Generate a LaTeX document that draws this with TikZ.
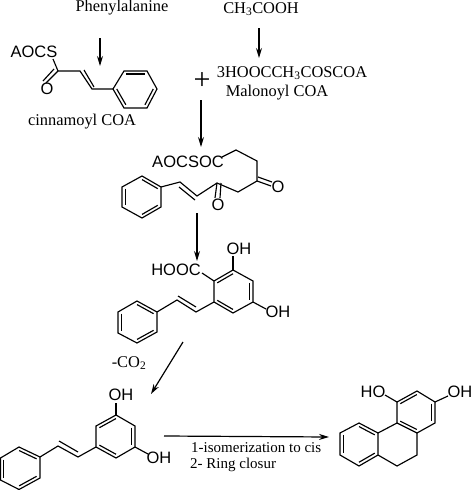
\documentclass[tikz,border=0pt]{standalone}
\usepackage{fontspec}
\setmainfont{Liberation Serif}
\setsansfont{Liberation Sans}
\usetikzlibrary{arrows.meta, calc}
\newcommand{\innerbond}[3]{\draw[bond] ($#1!.17!#3$) -- ($#2!.17!#3$);}
\begin{document}
\begin{tikzpicture}[
            x=1pt, y=-1pt,
            bond/.style={line width=1.15pt, line join=miter},
            arr/.style={-{Stealth[length=10pt,width=6pt]}, line width=1.2pt},
            lbl/.style={inner sep=0pt, font=\fontsize{16.4}{17}\selectfont},
            atom/.style={inner sep=0pt, font=\sffamily\fontsize{16.5}{17}\selectfont},
        ]
            \useasboundingbox (0,0) rectangle (473,490);

            % labels
            \node[lbl] (phe)  at (122,8)  {Phenylalanine};
            \node[lbl] (acet) at (261,9)  {CH\textsubscript{3}COOH};
            \node[lbl] (malo) at (292,73) {3HOOCCH\textsubscript{3}COSCOA};
            \node[lbl] (mcoa) at (277,93) {Malonoyl COA};
            \node[lbl] (cinn) at (82,122) {cinnamoyl COA};
            \node[lbl, font=\fontsize{30}{30}\selectfont] (plus) at (202,81) {+};
            \node[lbl] (co2)  at (129,363) {-CO\textsubscript{2}};
            \node[lbl, font=\fontsize{15}{16}\selectfont, anchor=west] (iso)  at (191,447.5) {1-isomerization to cis};
            \node[lbl, font=\fontsize{15}{16}\selectfont, anchor=west] (ring) at (190,464.5) {2- Ring closur};

            % cinnamoyl
            \node[atom] (aocs) at (34,52) {AOCS};
            \node[atom] (oa)   at (47,89) {O};
            \draw[bond] (53,59) -- (58,71) -- (80,71) -- (92,89) -- (113,89);
            \draw[bond] (58,71) -- (46,83);
            \draw[bond] (54,69) -- (43,81);
            \draw[bond] (84,70) -- (94,87);
            \draw[bond] (113,89) -- (124,71) -- (147,71) -- (157,89) -- (147,108) -- (124,108) -- cycle;
            \innerbond{(124,71)}{(147,71)}{(135,89)}
            \innerbond{(157,89)}{(147,108)}{(135,89)}
            \innerbond{(124,108)}{(113,89)}{(135,89)}

            % triketide
            \node[atom] (aocsoc) at (188,162) {AOCSOC};
            \node[atom] (ob) at (278,187) {O};
            \node[atom] (oc) at (218,205) {O};
            \draw[bond] (222,157) -- (236,150) -- (257,161) -- (257,181) -- (238,192) -- (217,183) -- (197,196) -- (180,182) -- (161,187);
            \draw[bond] (257,181) -- (271,186);
            \draw[bond] (258,177) -- (272,182);
            \draw[bond] (217,183) -- (215,198);
            \draw[bond] (221,183) -- (220,198);
            \draw[bond] (179,187) -- (195,200);
            \draw[bond] (161,187) -- (142,176) -- (122,187) -- (122,207) -- (142,218) -- (161,207) -- cycle;
            \innerbond{(161,187)}{(142,176)}{(142,197)}
            \innerbond{(122,187)}{(122,207)}{(142,197)}
            \innerbond{(142,218)}{(161,207)}{(142,197)}

            % acid
            \node[atom] (hooc) at (176,270) {HOOC};
            \node[atom] (ohd)  at (239,249) {OH};
            \node[atom] (ohe)  at (278,312) {OH};
            \draw[bond] (202,273) -- (214,281);
            \draw[bond] (233,270) -- (233,256);
            \draw[bond] (253,302) -- (266,309);
            \draw[bond] (233,270) -- (253,281) -- (253,302) -- (233,313) -- (214,302) -- (214,281) -- cycle;
            \innerbond{(233,270)}{(214,281)}{(233,292)}
            \innerbond{(253,281)}{(253,302)}{(233,292)}
            \innerbond{(233,313)}{(214,302)}{(233,292)}
            \draw[bond] (214,302) -- (196,312) -- (177,300) -- (157,312);
            \draw[bond] (196,307) -- (178,296);
            \draw[bond] (157,312) -- (137,301) -- (118,312) -- (118,333) -- (137,343) -- (157,332) -- cycle;
            \innerbond{(157,312)}{(137,301)}{(137,322)}
            \innerbond{(118,312)}{(118,333)}{(137,322)}
            \innerbond{(137,343)}{(157,332)}{(137,322)}

            % stilbene
            \node[atom] (ohf) at (121,395) {OH};
            \node[atom] (ohg) at (159,458) {OH};
            \draw[bond] (116,415) -- (116,403);
            \draw[bond] (135,447) -- (148,454);
            \draw[bond] (116,415) -- (135,426) -- (135,447) -- (116,458) -- (96,447) -- (96,426) -- cycle;
            \innerbond{(116,415)}{(96,426)}{(116,436)}
            \innerbond{(135,426)}{(135,447)}{(116,436)}
            \innerbond{(116,458)}{(96,447)}{(116,436)}
            \draw[bond] (96,447) -- (78,457) -- (58,446) -- (40,457);
            \draw[bond] (78,452) -- (59,441);
            \draw[bond] (40,457) -- (19,447) -- (0.5,458) -- (0.5,480) -- (19,489.5) -- (40,478) -- cycle;
            \innerbond{(40,457)}{(19,447)}{(20,468)}
            \innerbond{(0.5,458)}{(0.5,480)}{(20,468)}
            \innerbond{(19,489.5)}{(40,478)}{(20,468)}

            % phenanthrene
            \node[atom] (ohh) at (373,392) {HO};
            \node[atom] (ohi) at (460,392) {OH};
            \draw[bond] (385,395) -- (397,402);
            \draw[bond] (435,402) -- (448,396);
            \draw[bond] (417,391) -- (435,402) -- (435,423) -- (417,433) -- (397,423) -- (397,402) -- cycle;
            \innerbond{(417,391)}{(397,402)}{(416,412)}
            \innerbond{(435,402)}{(435,423)}{(416,412)}
            \innerbond{(417,433)}{(397,423)}{(416,412)}
            \draw[bond] (417,433) -- (417,455) -- (397,466) -- (378,455);
            \draw[bond] (397,423) -- (378,433);
            \draw[bond] (378,433) -- (359,423) -- (340,433) -- (340,455) -- (359,466) -- (378,455) -- cycle;
            \innerbond{(378,433)}{(359,423)}{(359,444)}
            \innerbond{(340,433)}{(340,455)}{(359,444)}
            \innerbond{(359,466)}{(378,455)}{(359,444)}

            % arrows
            \coordinate (a1) at (100,38);  \coordinate (a2) at (100,66);
            \coordinate (b1) at (259,28);  \coordinate (b2) at (259,58);
            \coordinate (c1) at (201,100); \coordinate (c2) at (201,147);
            \coordinate (d1) at (197,213); \coordinate (d2) at (197,261);
            \coordinate (e1) at (183,342); \coordinate (e2) at (151,394);
            \coordinate (f1) at (164,436); \coordinate (f2) at (329,437);
            \draw[arr] (a1) -- (a2);
            \draw[arr] (b1) -- (b2);
            \draw[arr] (c1) -- (c2);
            \draw[arr] (d1) -- (d2);
            \draw[arr] (e1) -- (e2);
            \draw[arr] (f1) -- (f2);
        \end{tikzpicture}
\end{document}
